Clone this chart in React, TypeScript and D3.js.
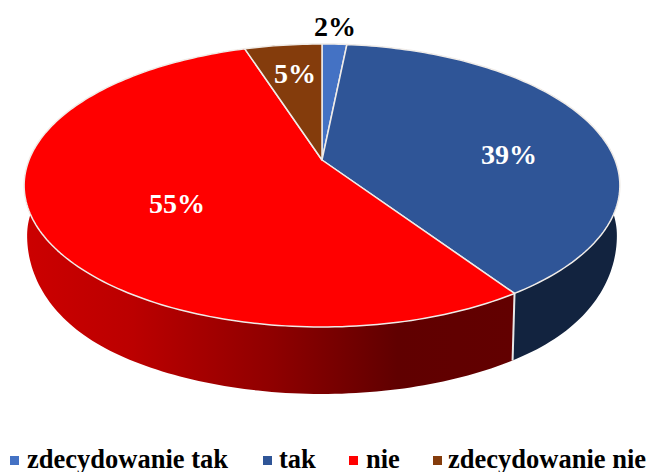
import React from "react";
import * as d3 from "d3";

const categories = ["zdecydowanie tak", "tak", "nie", "zdecydowanie nie"];
const values = [1.6, 39, 54.5, 5];
const labels = ["2%", "39%", "55%", "5%"];
const colors = ["#4472c4", "#2f5597", "#ff0000", "#843c0c"];
const wallColors = ["#1a2f55", "#12233f", "url(#redWall)", "#4f2407"];
const labelColors = ["#000", "#fff", "#fff", "#fff"];
const labelPos: [number, number][] = [[335, 36], [509, 164], [177, 213], [295, 83]];
const legendSwatch = [10, 263, 349, 433];
const legendText = [27, 279, 366, 448];

const apexX = 322, apexY = 160, a = 293, b = 136.9, k = -0.18;
const W = 649, H = 472;

function rim(theta: number): [number, number] {
  const u = Math.sin(theta), v = -Math.cos(theta);
  const den = 1 + k * v;
  return [apexX + (a * u) / den, apexY + (b * v) / den];
}
function lower(theta: number): [number, number] {
  const [x, y] = rim(theta);
  const t = Math.max(0, Math.min(1, (y - 185) / 106));
  return [322 + (x - 322) * 0.99, y + 50 + 17 * Math.sin((t * Math.PI) / 2)];
}
function samples(t0: number, t1: number) {
  const n = Math.max(2, Math.ceil(Math.abs(t1 - t0) / 0.02));
  return d3.range(n + 1).map((i) => t0 + ((t1 - t0) * i) / n);
}
const line = d3.line();

export default function App() {
  const arcs = d3.pie<number>().sort(null)(values);
  return (
    <svg width={W} height={H} style={{ position: "absolute", left: 0, top: 0, background: "#fff" }}>
      <defs>
        <linearGradient id="redWall" gradientUnits="userSpaceOnUse" x1="25" x2="515" y1="0" y2="0">
          <stop offset="0" stopColor="#cc0000" />
          <stop offset="0.22" stopColor="#bb0000" />
          <stop offset="0.36" stopColor="#a50000" />
          <stop offset="0.5" stopColor="#900000" />
          <stop offset="0.76" stopColor="#600000" />
          <stop offset="1" stopColor="#620000" />
        </linearGradient>
      </defs>
      {arcs.map((d, i) => {
        const ts = samples(d.startAngle, d.endAngle);
        const pts = [...ts.map(rim), ...ts.slice().reverse().map(lower)];
        return <path key={i} d={line(pts) + "Z"} fill={wallColors[i]} />;
      })}
      <path d={line([rim(arcs[1].endAngle), lower(arcs[1].endAngle)]) as string} stroke="#e8e8e8" strokeWidth={2} fill="none" />
      {arcs.map((d, i) => {
        const ts = samples(d.startAngle, d.endAngle);
        const pts: [number, number][] = [[apexX, apexY], ...ts.map(rim)];
        return <path key={i} d={line(pts) + "Z"} fill={colors[i]} stroke="#f0ece8" strokeWidth={1.5} strokeLinejoin="round" />;
      })}
      {labels.map((t, i) => (
        <text key={i} x={labelPos[i][0]} y={labelPos[i][1]} textAnchor="middle" fill={labelColors[i]}
          fontFamily="'Liberation Serif'" fontWeight="bold" fontSize={28}>{t}</text>
      ))}
      {categories.map((c, i) => (
        <g key={i}>
          <rect x={legendSwatch[i]} y={456} width={9} height={9} fill={colors[i]} />
          <text x={legendText[i]} y={468} fontFamily="'Liberation Serif'" fontWeight="bold" fontSize={26.5} fill="#000">{c}</text>
        </g>
      ))}
    </svg>
  );
}
